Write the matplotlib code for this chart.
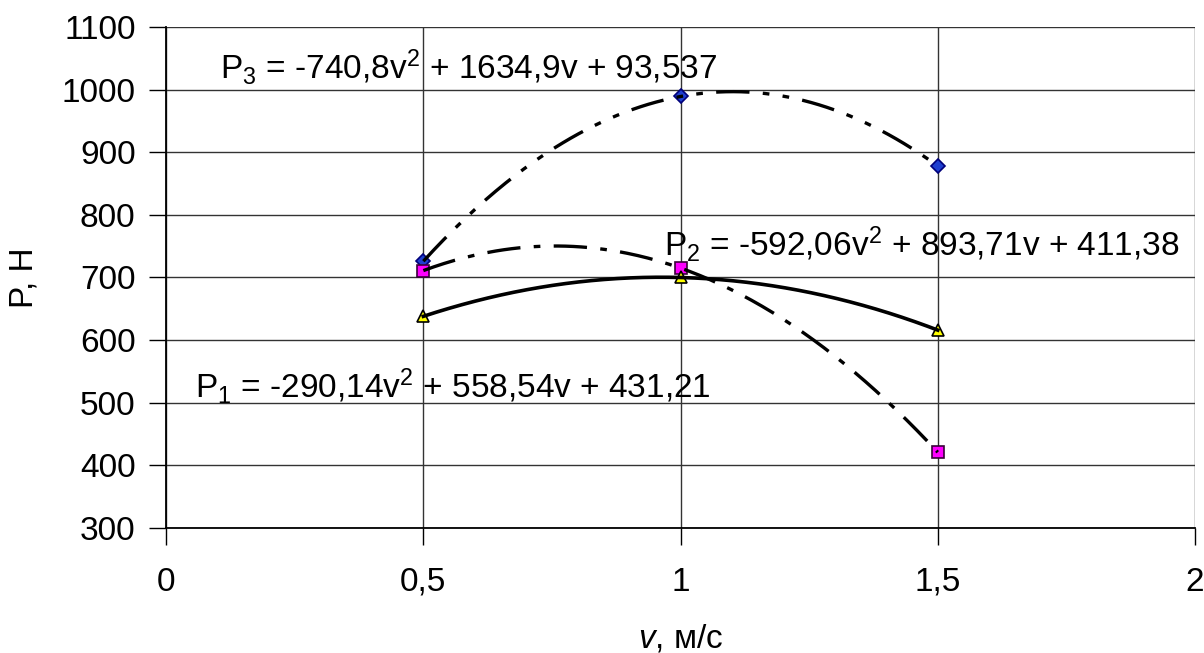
import numpy as np
import matplotlib
matplotlib.use("Agg")
import matplotlib.pyplot as plt

plt.rcParams['font.family'] = ['Liberation Sans', 'DejaVu Sans']
plt.rcParams['mathtext.fontset'] = 'custom'
plt.rcParams['mathtext.rm'] = 'Liberation Sans'
plt.rcParams['mathtext.it'] = 'Liberation Sans:italic'

# speed, m/s
v = [0.5, 1.0, 1.5]
# measured force, N
p1 = [638, 700, 616]
p2 = [711, 715, 421]
p3 = [726, 989, 878]

eq1 = r'P$_1$ = -290,14v$^2$ + 558,54v + 431,21'
eq2 = r'P$_2$ = -592,06v$^2$ + 893,71v + 411,38'
eq3 = r'P$_3$ = -740,8v$^2$ + 1634,9v + 93,537'

xticks = [0, 0.5, 1, 1.5, 2]
xticklabels = ['0', '0,5', '1', '1,5', '2']
yticks = [300, 400, 500, 600, 700, 800, 900, 1000, 1100]

fs = 24

fig = plt.figure(figsize=(12.04, 6.53), dpi=100)
ax = fig.add_axes([0.138, 0.1914, 0.8545, 0.7673])

# trend lines (2nd order polynomial through points)
vv = np.linspace(v[0], v[-1], 200)
c1 = np.polyfit(v, p1, 2)
c2 = np.polyfit(v, p2, 2)
c3 = np.polyfit(v, p3, 2)

ax.plot(v, p3, ls='none', marker='D', ms=7, mfc='#1f3fd0', mec='#00007a', mew=1.2, zorder=3)
ax.plot(v, p2, ls='none', marker='s', ms=8, mfc='#ff00ff', mec='#3a003a', mew=1.2, zorder=3)
ax.plot(v, p1, ls='none', marker='^', ms=9, mfc='#ffff00', mec='black', mew=1.2, zorder=3)

ax.plot(vv, np.polyval(c3, vv), color='black', lw=2.4, dashes=(10, 4, 2, 4, 2, 4), zorder=4)
ax.plot(vv, np.polyval(c2, vv), color='black', lw=2.4, dashes=(10, 4, 2, 4), zorder=4)
ax.plot(vv, np.polyval(c1, vv), color='black', lw=2.6, zorder=4)

ax.set_xlim(0, 2)
ax.set_ylim(300, 1100)
ax.set_xticks(xticks)
ax.set_xticklabels(xticklabels)
ax.set_yticks(yticks)
ax.grid(True, color='#333333', lw=1.0)
ax.set_axisbelow(True)
for s in ['top', 'right']:
    ax.spines[s].set_visible(False)
ax.spines['left'].set_linewidth(1.3)
ax.spines['bottom'].set_linewidth(1.3)
ax.tick_params(direction='out', length=12, width=1, labelsize=fs)
ax.tick_params(axis='x', pad=16)
ax.tick_params(axis='y', pad=10)

ax.set_xlabel(r'$\mathit{v}$, м/с', fontsize=fs, labelpad=18)
ax.set_ylabel('P, Н', fontsize=fs, labelpad=16)

# equations placed in data coordinates
ax.text(0.105, 1036, eq3, fontsize=fs, va='center')
ax.text(0.968, 754, eq2, fontsize=fs, va='center')
ax.text(0.056, 526, eq1, fontsize=fs, va='center')

fig.savefig('out.png', dpi=100)
